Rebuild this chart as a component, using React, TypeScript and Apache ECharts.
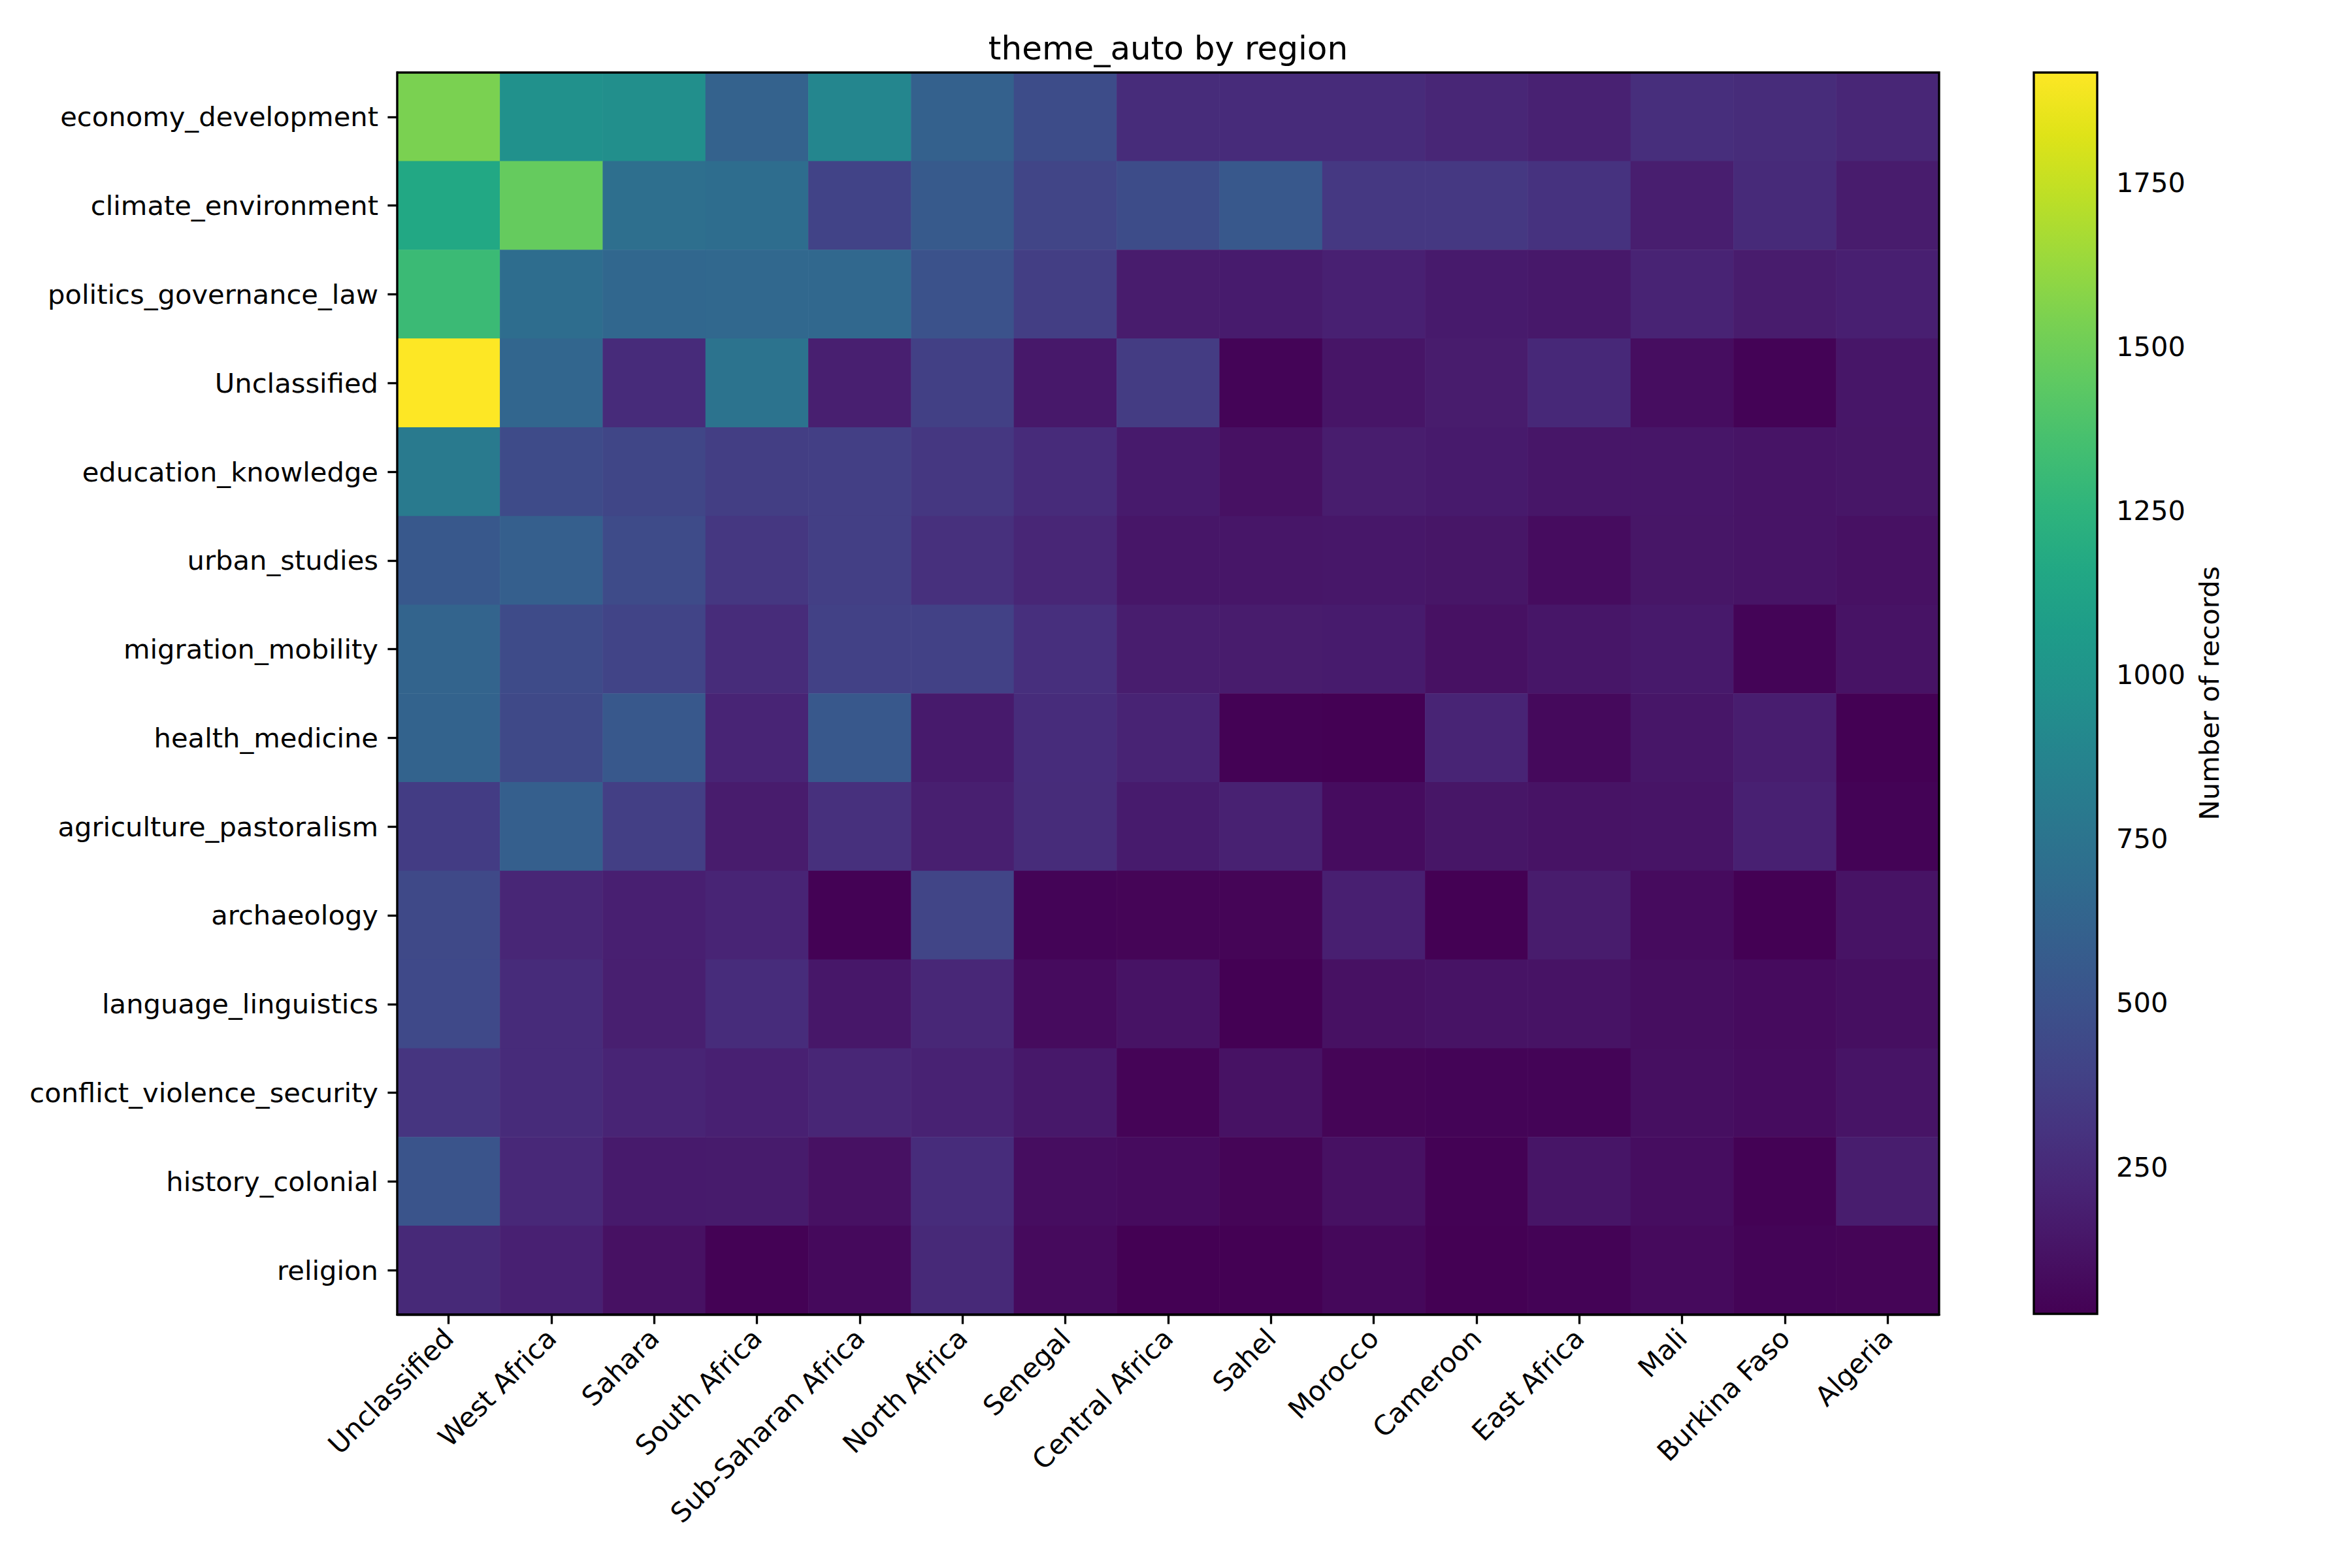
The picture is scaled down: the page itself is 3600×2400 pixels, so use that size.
import React, { useEffect, useRef } from "react";
import * as echarts from "echarts";

const regions = ["Unclassified", "West Africa", "Sahara", "South Africa", "Sub-Saharan Africa", "North Africa", "Senegal", "Central Africa", "Sahel", "Morocco", "Cameroon", "East Africa", "Mali", "Burkina Faso", "Algeria"];
const themes = ["economy_development", "climate_environment", "politics_governance_law", "Unclassified", "education_knowledge", "urban_studies", "migration_mobility", "health_medicine", "agriculture_pastoralism", "archaeology", "language_linguistics", "conflict_violence_security", "history_colonial", "religion"];

const economyDevelopment = [1540, 970, 960, 615, 895, 610, 460, 260, 255, 255, 228, 196, 272, 262, 225];
const climateEnvironment = [1160, 1470, 710, 700, 400, 556, 410, 460, 540, 335, 335, 300, 180, 250, 170];
const politicsGovernanceLaw = [1310, 700, 650, 660, 660, 500, 370, 170, 165, 195, 160, 150, 210, 170, 190];
const unclassifiedTheme = [1918, 645, 255, 740, 185, 380, 150, 355, 40, 130, 168, 240, 90, 35, 140];
const educationKnowledge = [800, 450, 415, 370, 375, 330, 255, 160, 110, 175, 160, 140, 140, 125, 135];
const urbanStudies = [545, 590, 450, 330, 375, 285, 225, 140, 140, 145, 135, 85, 135, 125, 110];
const migrationMobility = [630, 455, 405, 260, 385, 385, 280, 175, 170, 165, 110, 140, 155, 40, 120];
const healthMedicine = [625, 435, 545, 215, 545, 160, 265, 212, 30, 28, 215, 70, 140, 178, 26];
const agriculturePastoralism = [360, 595, 375, 170, 285, 185, 260, 165, 200, 85, 135, 120, 128, 195, 38];
const archaeology = [435, 228, 190, 215, 30, 410, 40, 45, 45, 190, 28, 170, 80, 28, 120];
const languageLinguistics = [440, 255, 185, 265, 145, 230, 80, 118, 28, 110, 118, 120, 95, 80, 100];
const conflictViolenceSecurity = [315, 255, 215, 195, 225, 205, 150, 42, 115, 45, 40, 40, 100, 85, 125];
const historyColonial = [510, 237, 160, 163, 110, 265, 90, 80, 45, 110, 30, 130, 90, 30, 175];
const religion = [245, 195, 110, 30, 70, 245, 75, 28, 26, 65, 26, 35, 75, 40, 45];

const matrix = [economyDevelopment, climateEnvironment, politicsGovernanceLaw, unclassifiedTheme, educationKnowledge, urbanStudies, migrationMobility, healthMedicine, agriculturePastoralism, archaeology, languageLinguistics, conflictViolenceSecurity, historyColonial, religion];

const colorTicks = [250, 500, 750, 1000, 1250, 1500, 1750];
const vMin = 26;
const vMax = 1918;

const viridis = ["#440154", "#471365", "#482475", "#463480", "#414487", "#3b528b", "#355f8d", "#2f6c8e", "#2a788e", "#25848e", "#21918c", "#1e9c89", "#22a884", "#2fb47c", "#44bf70", "#5ec962", "#7ad151", "#9bd93c", "#bddf26", "#dfe318", "#fde725"];

const FONT = "DejaVu Sans";
const FS = 41.67;
const LW = 3.33;

const G = { left: 608, top: 111, width: 2360, height: 1901 };
const CB = { left: 3113, top: 111, width: 97, height: 1900 };

export default function App() {
  const ref = useRef<HTMLDivElement>(null);
  useEffect(() => {
    document.body.style.margin = "0";
    if (!ref.current) return;
    const chart = echarts.init(ref.current, null, { renderer: "svg" });
    const data: number[][] = [];
    matrix.forEach((row, yi) => row.forEach((v, xi) => data.push([xi, yi, v])));
    const stops = viridis.map((c, i) => ({ offset: i / (viridis.length - 1), color: c }));
    chart.setOption({
      animation: false,
      backgroundColor: "#ffffff",
      textStyle: { fontFamily: FONT },
      grid: [
        { ...G, containLabel: false },
        { ...CB, containLabel: false },
      ],
      xAxis: [
        {
          type: "category",
          gridIndex: 0,
          data: regions,
          axisLine: { show: true, lineStyle: { color: "#000", width: LW } },
          axisTick: { show: true, alignWithLabel: true, length: 14.6, lineStyle: { color: "#000", width: LW } },
          axisLabel: { rotate: 45, margin: 29, fontSize: FS, color: "#000", fontFamily: FONT, interval: 0 },
          splitLine: { show: false },
        },
        { type: "value", gridIndex: 1, min: 0, max: 1, show: false },
      ],
      yAxis: [
        {
          type: "category",
          gridIndex: 0,
          inverse: true,
          data: themes,
          axisLine: { show: true, lineStyle: { color: "#000", width: LW } },
          axisTick: { show: true, alignWithLabel: true, length: 14.6, lineStyle: { color: "#000", width: LW } },
          axisLabel: { margin: 29, fontSize: FS, color: "#000", fontFamily: FONT, interval: 0 },
          splitLine: { show: false },
        },
        {
          type: "value",
          gridIndex: 1,
          min: vMin,
          max: vMax,
          position: "right",
          axisLine: { show: false },
          axisTick: { show: true, customValues: colorTicks, length: 14.6, lineStyle: { color: "#000", width: LW } },
          axisLabel: { customValues: colorTicks, margin: 29, fontSize: FS, color: "#000", fontFamily: FONT, formatter: (v: number) => String(v) },
          splitLine: { show: false },
          name: "Number of records",
          nameLocation: "middle",
          nameRotate: 90,
          nameGap: 150,
          nameTextStyle: { fontSize: FS, color: "#000", fontFamily: FONT },
        },
      ],
      visualMap: {
        show: false,
        type: "continuous",
        min: vMin,
        max: vMax,
        seriesIndex: 0,
        inRange: { color: viridis },
      },
      series: [
        {
          type: "heatmap",
          xAxisIndex: 0,
          yAxisIndex: 0,
          data,
          itemStyle: { borderWidth: 0 },
          emphasis: { disabled: true },
        },
      ],
      graphic: [
        {
          type: "rect",
          z: 100,
          shape: { x: G.left, y: G.top, width: G.width, height: G.height },
          style: { fill: "none", stroke: "#000", lineWidth: LW },
          silent: true,
        },
        {
          type: "rect",
          z: 50,
          shape: { x: CB.left, y: CB.top, width: CB.width, height: CB.height },
          style: { fill: new echarts.graphic.LinearGradient(0, 1, 0, 0, stops), stroke: "#000", lineWidth: LW },
          silent: true,
        },
        {
          type: "text",
          z: 100,
          x: G.left + G.width / 2,
          y: 74,
          style: { text: "theme_auto by region", fontSize: 50, fontFamily: FONT, fill: "#000", align: "center", verticalAlign: "middle" },
          silent: true,
        },
      ],
    });
    return () => chart.dispose();
  }, []);
  return <div ref={ref} style={{ width: 3600, height: 2400 }} />;
}
